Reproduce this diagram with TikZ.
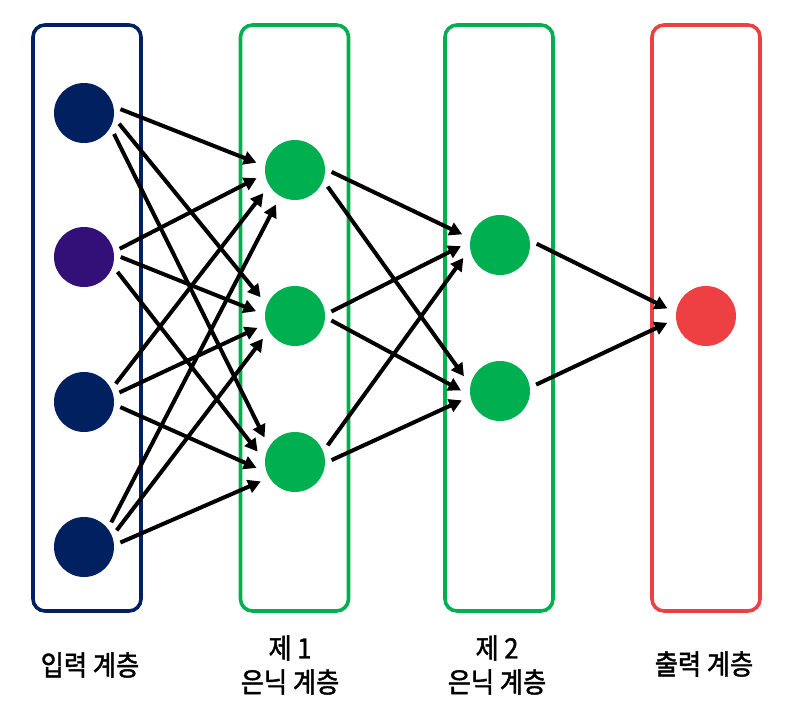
\documentclass[tikz,border=0pt]{standalone}
\usepackage{fontspec}
\usepackage{tikz}
\usetikzlibrary{arrows.meta}
\newfontfamily\krfont[FakeStretch=0.9,FakeBold=1.6]{Noto Sans CJK KR}
\definecolor{nv}{HTML}{002060}
\definecolor{pp}{HTML}{330F78}
\definecolor{gr}{HTML}{00B050}
\definecolor{rd}{HTML}{EE4042}

\begin{document}
\begin{tikzpicture}[x=0.75pt,y=-0.75pt,
  layerbox/.style={rectangle,draw,line width=2.7pt,rounded corners=9pt,
    minimum width=81pt,minimum height=439.5pt,inner sep=0pt},
  neuron/.style={circle,minimum size=45pt,inner sep=0pt,outer sep=5pt},
  lbl/.style={align=center,text=black,
    font=\krfont\fontsize{21}{25.5}\selectfont},
  arr/.style={-{Triangle[length=9.5pt,width=10pt]},line width=3pt,
    shorten >=2pt}]
  \useasboundingbox (0,0) rectangle (797,721);
  \node[layerbox,draw=nv] (inbox) at (87,318) {};
  \node[layerbox,draw=gr] (hidabox) at (294.5,318) {};
  \node[layerbox,draw=gr] (hidbbox) at (499,318) {};
  \node[layerbox,draw=rd] (outbox) at (706,318) {};
  \node[neuron,fill=nv] (in1) at (84,113) {};
  \node[neuron,fill=pp] (in2) at (84,257) {};
  \node[neuron,fill=nv] (in3) at (84,402) {};
  \node[neuron,fill=nv] (in4) at (84,547) {};
  \node[neuron,fill=gr] (h1a) at (295,170) {};
  \node[neuron,fill=gr] (h1b) at (295,316) {};
  \node[neuron,fill=gr] (h1c) at (295,462) {};
  \node[neuron,fill=gr] (h2a) at (500,245) {};
  \node[neuron,fill=gr] (h2b) at (500,391) {};
  \node[neuron,fill=rd] (out) at (706,316) {};
  \node[lbl] (inlbl) at (90,665) {입력 계층};
  \node[lbl] (h1lbl) at (290,665) {제 1\\은닉 계층};
  \node[lbl] (h2lbl) at (497,665) {제 2\\은닉 계층};
  \node[lbl] (outlbl) at (704,664) {출력 계층};
  \draw[arr] (in1.6) -- (h1a.170);
  \draw[arr] (in1.-17) -- (h1b.153);
  \draw[arr] (in1.-35) -- (h1c.143);
  \draw[arr] (in2.13) -- (h1a.191);
  \draw[arr] (in2.0) -- (h1b.174);
  \draw[arr] (in2.-24) -- (h1c.167);
  \draw[arr] (in3.30) -- (h1a.215);
  \draw[arr] (in3.15) -- (h1b.197);
  \draw[arr] (in3.-8) -- (h1c.191);
  \draw[arr] (in4.42) -- (h1a.241);
  \draw[arr] (in4.27) -- (h1b.214);
  \draw[arr] (in4.7) -- (h1c.210);
  \draw[arr] (h1a.-3) -- (h2a.165);
  \draw[arr] (h1a.-27) -- (h2b.160);
  \draw[arr] (h1b.7) -- (h2a.180);
  \draw[arr] (h1b.-7) -- (h2b.181);
  \draw[arr] (h1c.27) -- (h2a.197);
  \draw[arr] (h1c.3) -- (h2b.193);
  \draw[arr] (h2a.2) -- (out.170);
  \draw[arr] (h2b.10) -- (out.189);
\end{tikzpicture}
\end{document}
